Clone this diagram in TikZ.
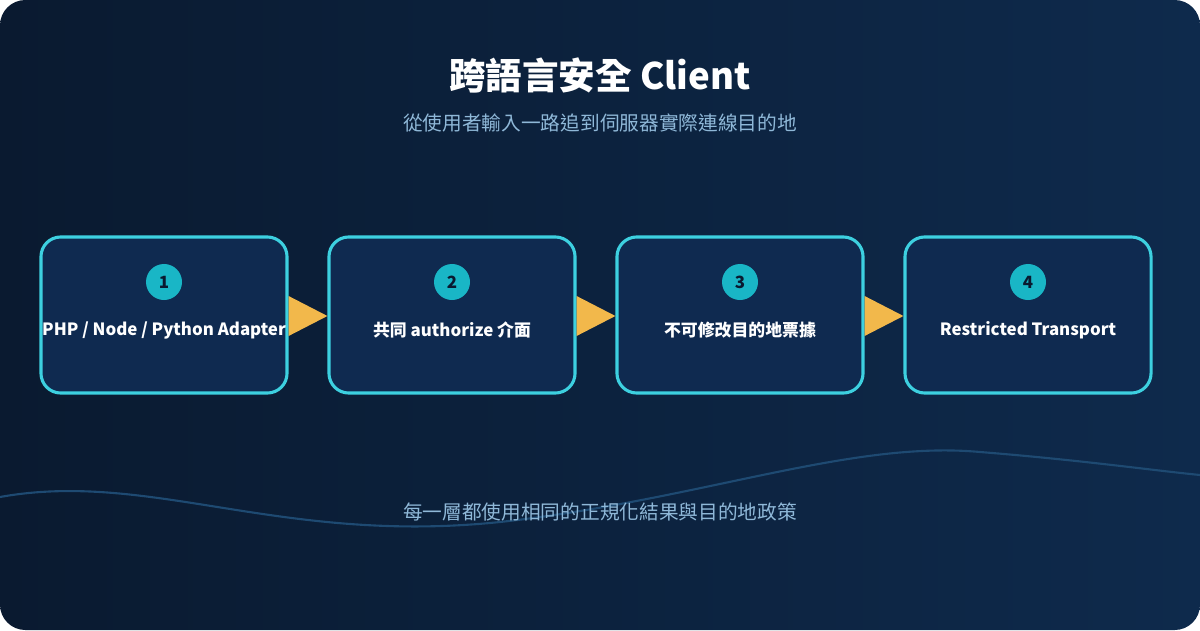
\documentclass[tikz,border=0pt]{standalone}
\usepackage{fontspec}
\setmainfont{Noto Sans CJK TC}
\usetikzlibrary{positioning, calc}
\definecolor{bgA}{HTML}{0A1A30}
\definecolor{bgB}{HTML}{0E2A4C}
\definecolor{boxfill}{HTML}{0F2A50}
\definecolor{boxline}{HTML}{3DD0E0}
\definecolor{badge}{HTML}{19B6C6}
\definecolor{subtext}{HTML}{8FB8D8}
\definecolor{tri}{HTML}{F2B84B}
\definecolor{wave}{HTML}{1E4A72}
\newcommand{\unit}{pt*0.7113}
\tikzset{
  stepbox/.style={draw=boxline, line width=2.2pt, fill=boxfill, rounded corners=14pt,
    minimum width=246\unit, minimum height=156\unit},
  num/.style={circle, fill=badge, minimum size=36\unit, inner sep=0pt,
    font=\bfseries\fontsize{12}{12}\selectfont, text=bgA},
  lbl/.style={text=white, font=\bfseries\fontsize{12}{14}\selectfont},
}
\begin{document}
\begin{tikzpicture}[x=0.025cm, y=-0.025cm]
  \useasboundingbox (0,0) rectangle (1200,630);
  \fill[white] (0,0) rectangle (1200,630);
  \shade[left color=bgA, right color=bgB, rounded corners=18pt] (0,0) rectangle (1200,630);
  % wave
  \draw[wave, line width=1.5pt] (0,497) .. controls (150,470) and (280,545) .. (500,522)
    .. controls (700,500) and (850,440) .. (980,452) .. controls (1080,460) and (1150,470) .. (1200,475);
  % titles
  \node[text=white, font=\bfseries\fontsize{26}{30}\selectfont] (title) at (600,75) {跨語言安全 Client};
  \node[text=subtext, font=\fontsize{14}{16}\selectfont] (sub) at (600,123) {從使用者輸入一路追到伺服器實際連線目的地};
  \node[text=subtext, font=\fontsize{14}{16}\selectfont] (foot) at (600,512) {每一層都使用相同的正規化結果與目的地政策};
  % steps
  \foreach \i/\x/\t in {1/164/{PHP / Node / Python Adapter}, 2/452/{共同 authorize 介面},
                        3/740/{不可修改目的地票據}, 4/1028/{Restricted Transport}} {
    \node[stepbox] (s\i) at (\x,315) {};
    \node[num] (n\i) at (\x,282) {\i};
    \node[lbl] (l\i) at (\x,330) {\t};
  }
  % connectors
  \foreach \a/\b in {1/2, 2/3, 3/4} {
    \fill[tri] ($(s\a.east)+(0,-19)$) -- ($(s\b.west)+(0,1)$) -- ($(s\a.east)+(0,21)$) -- cycle;
  }
\end{tikzpicture}
\end{document}
